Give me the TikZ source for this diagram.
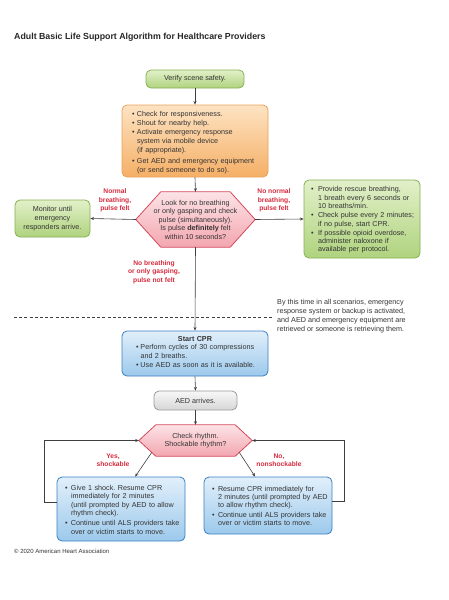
\documentclass[tikz,border=0pt]{standalone}
\usepackage{fontspec}
\setmainfont{Liberation Sans}
\usetikzlibrary{calc,arrows.meta,backgrounds}
\frenchspacing
\definecolor{txt}{HTML}{333333}
\definecolor{lab}{HTML}{D42A3C}
\definecolor{lnc}{HTML}{3F3F3F}
\definecolor{gtop}{HTML}{E2F0C9}\definecolor{gbot}{HTML}{AFD37E}\definecolor{gbrd}{HTML}{86B050}
\definecolor{otop}{HTML}{FDE3C3}\definecolor{obot}{HTML}{F5AF66}\definecolor{obrd}{HTML}{E9A159}
\definecolor{ptop}{HTML}{FCE3E6}\definecolor{pbot}{HTML}{F3A6AF}\definecolor{pbrd}{HTML}{D6485C}
\definecolor{btop}{HTML}{E1EFFA}\definecolor{bbot}{HTML}{9CC9EC}\definecolor{bbrd}{HTML}{3A80C2}
\definecolor{ytop}{HTML}{F8F8F8}\definecolor{ybot}{HTML}{D6D6D6}\definecolor{ybrd}{HTML}{9A9A9A}
\newcommand\fs{\fontsize{7.2}{8.8}\selectfont}
\newcommand\labfs{\fontsize{6.7}{8.5}\selectfont\bfseries}
\newcommand\bitem[2][6pt]{\par\noindent\hbox{\makebox[#1][l]{\textbullet}\begin{tabular}[t]{@{}l@{}}#2\end{tabular}}\par}
\tikzset{
  box/.style={rounded corners=5pt, line width=0.8pt, inner sep=0pt, text=txt, font=\fs},
  gbox/.style={box, draw=gbrd, top color=gtop, bottom color=gbot},
  obox/.style={box, draw=obrd, top color=otop, bottom color=obot},
  bbox/.style={box, draw=bbrd, top color=btop, bottom color=bbot},
  ybox/.style={box, draw=ybrd, top color=ytop, bottom color=ybot},
  hexnode/.style={inner sep=0pt, text=txt, font=\fontsize{7.2}{8.5}\selectfont, align=center},
  hexfill/.style={draw=pbrd, line width=0.8pt, top color=ptop, bottom color=pbot},
  lbl/.style={text=lab, font=\labfs, align=center, inner sep=0pt},
  arr/.style={draw=lnc, line width=0.6pt, -{Stealth[length=3.6pt,width=3pt]}},
}
\begin{document}
\begin{tikzpicture}[x=1pt,y=-1pt]
\useasboundingbox (0,0) rectangle (448,600);
\node[anchor=west, text=black!85, font=\fontsize{8.8}{10}\selectfont\bfseries, inner sep=0pt] (title) at (14,37) {Adult Basic Life Support Algorithm for Healthcare Providers};

\node[gbox, minimum width=98pt, minimum height=18pt] (v) at (195,79) {Verify scene safety.};

\node[obox, minimum width=146pt, minimum height=72pt, text width=126pt] (o) at (195,141) {\fontsize{7.2}{9.2}\selectfont\raggedright\parindent0pt
\bitem[5pt]{Check for responsiveness.}
\bitem[5pt]{Shout for nearby help.}
\bitem[5pt]{Activate emergency response\\system via mobile device\\(if appropriate).}
\bitem[5pt]{Get AED and emergency equipment\\(or send someone to do so).}};

\node[hexnode, minimum width=119pt, minimum height=55pt] (h1) at (195.5,219.5) {Look for no breathing\\or only gasping and check\\pulse (simultaneously).\\Is pulse \textbf{definitely} felt\\within 10 seconds?};
\begin{scope}[on background layer]
\path[hexfill] (h1.west) -- ($(h1.north west)+(25,0)$) -- ($(h1.north east)+(-25,0)$) -- (h1.east) -- ($(h1.south east)+(-25,0)$) -- ($(h1.south west)+(25,0)$) -- cycle;
\end{scope}

\node[gbox, minimum width=75pt, minimum height=37pt, align=center] (m) at (52.5,218.5) {Monitor until\\emergency\\responders arrive.};

\node[gbox, minimum width=116pt, minimum height=78pt, text width=102pt] (r) at (362,219) {\fontsize{7.2}{8.3}\selectfont\raggedright\parindent0pt
\bitem[7pt]{Provide rescue breathing,\\1 breath every 6 seconds or\\10 breaths/min.}
\bitem[7pt]{Check pulse every 2 minutes;\\if no pulse, start CPR.}
\bitem[7pt]{If possible opioid overdose,\\administer naloxone if\\available per protocol.}};

\node[lbl] (l1) at (115,200.5) {Normal\\breathing,\\pulse felt};
\node[lbl] (l2) at (274,200.5) {No normal\\breathing,\\pulse felt};
\node[lbl] (l3) at (154,272) {No breathing\\or only gasping,\\pulse not felt};

\coordinate (d1) at (14,317);
\coordinate (d2) at (273,317);
\draw[draw=lnc, line width=0.6pt, dash pattern=on 3pt off 2.2pt] (d1) -- (d2);
\node[anchor=west, text=txt, font=\fontsize{7.2}{9}\selectfont, align=left, inner sep=0pt] (note) at (277,316.5) {By this time in all scenarios, emergency\\response system or backup is activated,\\and AED and emergency equipment are\\retrieved or someone is retrieving them.};

\node[bbox, minimum width=146pt, minimum height=45pt, text width=118pt] (c) at (195,353.5) {\fontsize{7.2}{8.5}\selectfont\raggedright\parindent0pt
{\centering\textbf{Start CPR}\par}
\bitem[4.5pt]{Perform cycles of 30 compressions\\and 2 breaths.}
\bitem[4.5pt]{Use AED as soon as it is available.}};

\node[ybox, minimum width=83pt, minimum height=19pt] (aed) at (195.5,400.5) {AED arrives.};

\node[hexnode, minimum width=113pt, minimum height=31pt] (h2) at (195.5,440.5) {Check rhythm.\\Shockable rhythm?};
\begin{scope}[on background layer]
\path[hexfill] (h2.west) -- ($(h2.north west)+(17,0)$) -- ($(h2.north east)+(-17,0)$) -- (h2.east) -- ($(h2.south east)+(-17,0)$) -- ($(h2.south west)+(17,0)$) -- cycle;
\end{scope}
\coordinate (h2ll) at ($(h2.south west)+(17,0)$);
\coordinate (h2lr) at ($(h2.south east)+(-17,0)$);

\node[lbl] (l4) at (113,460) {Yes,\\shockable};
\node[lbl] (l5) at (279,460) {No,\\nonshockable};

\node[bbox, minimum width=128pt, minimum height=64pt, text width=112pt] (lb) at (121,509) {\fontsize{7.2}{8.6}\selectfont\raggedright\parindent0pt
\bitem[6pt]{Give 1 shock. Resume CPR\\immediately for 2 minutes\\(until prompted by AED to allow\\rhythm check).}
\bitem[6pt]{Continue until ALS providers take\\over or victim starts to move.}};

\node[bbox, minimum width=128pt, minimum height=57pt, text width=112pt] (rb) at (268,505.5) {\fontsize{7.2}{8.4}\selectfont\raggedright\parindent0pt
\bitem[6pt]{Resume CPR immediately for\\2 minutes (until prompted by AED\\to allow rhythm check).}
\bitem[6pt]{Continue until ALS providers take\\over or victim starts to move.}};

\node[anchor=west, text=txt, font=\fontsize{6}{7}\selectfont, inner sep=0pt] (copy) at (14,551) {© 2020 American Heart Association};

% connectors
\draw[arr] (v.south) -- (o.north);
\draw[arr] (o.south) -- (h1.north);
\draw[arr] (h1.west) -- (m.east);
\draw[arr] (h1.east) -- (r.west);
\draw[arr] (h1.south) -- (c.north);
\draw[arr] (c.south) -- (aed.north);
\draw[arr] (aed.south) -- (h2.north);
\draw[arr] ($(h2.west)!0.76!(h2ll)$) -- ($(lb.north west)!0.61!(lb.north east)$);
\draw[arr] ($(h2.east)!0.76!(h2lr)$) -- ($(rb.north west)!0.40!(rb.north east)$);
\draw[arr] ($(lb.north west)!0.39!(lb.south west)$) -- ++(-12,0) |- (h2.west);
\draw[arr] ($(rb.north east)!0.42!(rb.south east)$) -- ++(12,0) |- (h2.east);
\end{tikzpicture}
\end{document}
